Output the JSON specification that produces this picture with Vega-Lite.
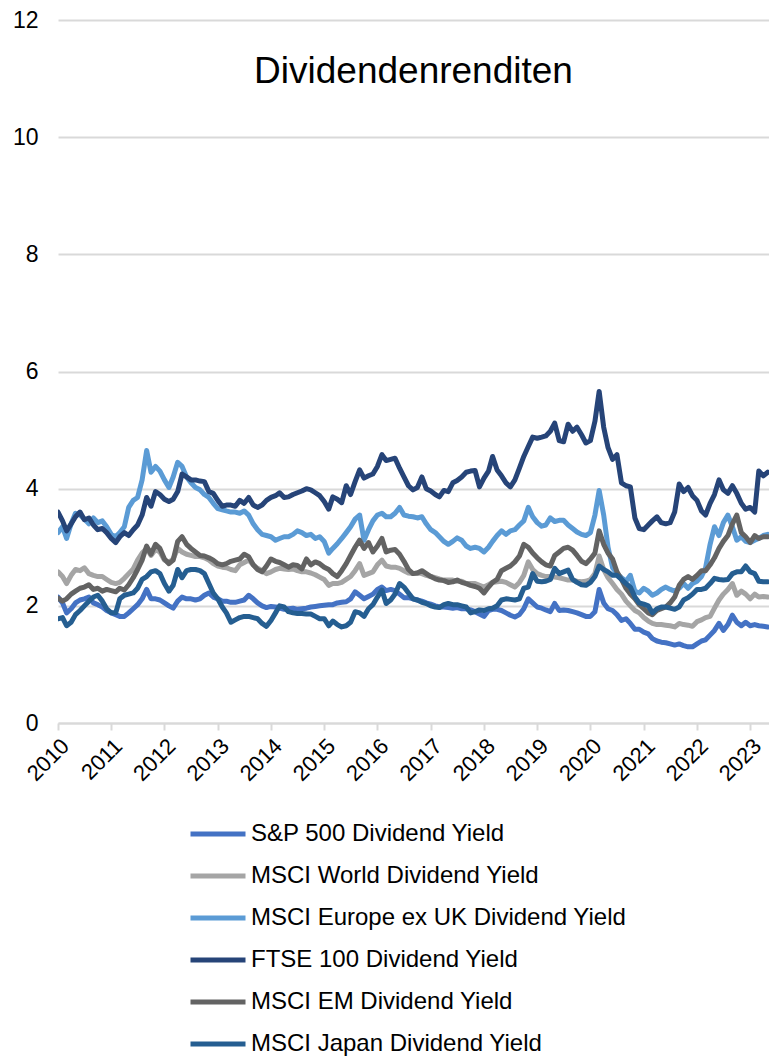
{
  "$schema": "https://vega.github.io/schema/vega-lite/v6.json",
  "width": 711,
  "height": 703,
  "autosize": {"type": "none"},
  "padding": {"left": 58, "top": 20, "right": 0, "bottom": 334},
  "background": "white",
  "config": {
    "view": {"stroke": null},
    "font": "Liberation Sans"
  },
  "title": {
    "text": "Dividendenrenditen",
    "font": "Liberation Sans",
    "fontSize": 37,
    "fontWeight": "normal",
    "color": "#000000",
    "anchor": "middle",
    "baseline": "alphabetic",
    "offset": 0,
    "dy": 111
  },
  "data": {
    "values": [
      {"d":"2010-01-01","sp":2.15,"world":2.58,"eu":3.25,"ftse":3.60,"em":2.13,"jp":1.78},
      {"d":"2010-02-01","sp":2.05,"world":2.50,"eu":3.35,"ftse":3.45,"em":2.08,"jp":1.80},
      {"d":"2010-03-01","sp":1.88,"world":2.38,"eu":3.15,"ftse":3.28,"em":2.12,"jp":1.66},
      {"d":"2010-04-01","sp":1.95,"world":2.52,"eu":3.40,"ftse":3.40,"em":2.20,"jp":1.72},
      {"d":"2010-05-01","sp":2.05,"world":2.62,"eu":3.58,"ftse":3.52,"em":2.25,"jp":1.85},
      {"d":"2010-06-01","sp":2.10,"world":2.60,"eu":3.55,"ftse":3.60,"em":2.30,"jp":1.92},
      {"d":"2010-07-01","sp":2.12,"world":2.65,"eu":3.48,"ftse":3.47,"em":2.32,"jp":2.00},
      {"d":"2010-08-01","sp":2.15,"world":2.55,"eu":3.40,"ftse":3.50,"em":2.36,"jp":2.08},
      {"d":"2010-09-01","sp":2.05,"world":2.52,"eu":3.50,"ftse":3.38,"em":2.28,"jp":2.15},
      {"d":"2010-10-01","sp":2.02,"world":2.50,"eu":3.42,"ftse":3.30,"em":2.30,"jp":2.18},
      {"d":"2010-11-01","sp":1.98,"world":2.50,"eu":3.45,"ftse":3.32,"em":2.25,"jp":2.08},
      {"d":"2010-12-01","sp":1.92,"world":2.45,"eu":3.35,"ftse":3.25,"em":2.28,"jp":1.95},
      {"d":"2011-01-01","sp":1.88,"world":2.40,"eu":3.22,"ftse":3.15,"em":2.26,"jp":1.88},
      {"d":"2011-02-01","sp":1.85,"world":2.38,"eu":3.18,"ftse":3.08,"em":2.24,"jp":1.88},
      {"d":"2011-03-01","sp":1.82,"world":2.40,"eu":3.25,"ftse":3.18,"em":2.30,"jp":2.12},
      {"d":"2011-04-01","sp":1.82,"world":2.47,"eu":3.35,"ftse":3.25,"em":2.27,"jp":2.18},
      {"d":"2011-05-01","sp":1.88,"world":2.55,"eu":3.68,"ftse":3.20,"em":2.36,"jp":2.20},
      {"d":"2011-06-01","sp":1.95,"world":2.63,"eu":3.80,"ftse":3.30,"em":2.48,"jp":2.22},
      {"d":"2011-07-01","sp":2.02,"world":2.78,"eu":3.85,"ftse":3.38,"em":2.62,"jp":2.30},
      {"d":"2011-08-01","sp":2.12,"world":2.90,"eu":4.15,"ftse":3.55,"em":2.78,"jp":2.45},
      {"d":"2011-09-01","sp":2.28,"world":2.98,"eu":4.65,"ftse":3.85,"em":3.02,"jp":2.50},
      {"d":"2011-10-01","sp":2.12,"world":2.86,"eu":4.28,"ftse":3.70,"em":2.88,"jp":2.58},
      {"d":"2011-11-01","sp":2.12,"world":2.96,"eu":4.38,"ftse":3.95,"em":3.05,"jp":2.60},
      {"d":"2011-12-01","sp":2.10,"world":2.92,"eu":4.30,"ftse":3.90,"em":2.98,"jp":2.55},
      {"d":"2012-01-01","sp":2.05,"world":2.78,"eu":4.15,"ftse":3.82,"em":2.80,"jp":2.38},
      {"d":"2012-02-01","sp":2.00,"world":2.74,"eu":4.02,"ftse":3.78,"em":2.72,"jp":2.25},
      {"d":"2012-03-01","sp":1.96,"world":2.80,"eu":4.20,"ftse":3.82,"em":2.78,"jp":2.35},
      {"d":"2012-04-01","sp":2.08,"world":2.98,"eu":4.45,"ftse":3.95,"em":3.10,"jp":2.62},
      {"d":"2012-05-01","sp":2.15,"world":2.92,"eu":4.38,"ftse":4.25,"em":3.18,"jp":2.48},
      {"d":"2012-06-01","sp":2.12,"world":2.88,"eu":4.20,"ftse":4.20,"em":3.05,"jp":2.60},
      {"d":"2012-07-01","sp":2.12,"world":2.86,"eu":4.10,"ftse":4.15,"em":2.98,"jp":2.62},
      {"d":"2012-08-01","sp":2.10,"world":2.84,"eu":4.02,"ftse":4.15,"em":2.92,"jp":2.62},
      {"d":"2012-09-01","sp":2.12,"world":2.84,"eu":3.98,"ftse":4.13,"em":2.86,"jp":2.60},
      {"d":"2012-10-01","sp":2.18,"world":2.82,"eu":3.90,"ftse":4.12,"em":2.85,"jp":2.55},
      {"d":"2012-11-01","sp":2.22,"world":2.78,"eu":3.85,"ftse":3.95,"em":2.82,"jp":2.38},
      {"d":"2012-12-01","sp":2.15,"world":2.72,"eu":3.75,"ftse":3.92,"em":2.78,"jp":2.22},
      {"d":"2013-01-01","sp":2.12,"world":2.68,"eu":3.66,"ftse":3.80,"em":2.72,"jp":2.12},
      {"d":"2013-02-01","sp":2.08,"world":2.66,"eu":3.64,"ftse":3.70,"em":2.70,"jp":1.98},
      {"d":"2013-03-01","sp":2.08,"world":2.65,"eu":3.62,"ftse":3.72,"em":2.72,"jp":1.88},
      {"d":"2013-04-01","sp":2.06,"world":2.62,"eu":3.60,"ftse":3.72,"em":2.76,"jp":1.72},
      {"d":"2013-05-01","sp":2.06,"world":2.60,"eu":3.60,"ftse":3.70,"em":2.78,"jp":1.76},
      {"d":"2013-06-01","sp":2.08,"world":2.70,"eu":3.58,"ftse":3.80,"em":2.80,"jp":1.80},
      {"d":"2013-07-01","sp":2.10,"world":2.74,"eu":3.62,"ftse":3.75,"em":2.88,"jp":1.82},
      {"d":"2013-08-01","sp":2.18,"world":2.78,"eu":3.55,"ftse":3.85,"em":2.84,"jp":1.82},
      {"d":"2013-09-01","sp":2.12,"world":2.70,"eu":3.40,"ftse":3.72,"em":2.70,"jp":1.80},
      {"d":"2013-10-01","sp":2.05,"world":2.64,"eu":3.30,"ftse":3.68,"em":2.62,"jp":1.78},
      {"d":"2013-11-01","sp":2.00,"world":2.60,"eu":3.22,"ftse":3.72,"em":2.58,"jp":1.70},
      {"d":"2013-12-01","sp":1.97,"world":2.55,"eu":3.20,"ftse":3.80,"em":2.68,"jp":1.65},
      {"d":"2014-01-01","sp":1.99,"world":2.58,"eu":3.18,"ftse":3.85,"em":2.80,"jp":1.75},
      {"d":"2014-02-01","sp":1.98,"world":2.62,"eu":3.12,"ftse":3.88,"em":2.76,"jp":1.88},
      {"d":"2014-03-01","sp":1.96,"world":2.64,"eu":3.15,"ftse":3.93,"em":2.74,"jp":2.00},
      {"d":"2014-04-01","sp":1.94,"world":2.63,"eu":3.18,"ftse":3.85,"em":2.70,"jp":1.98},
      {"d":"2014-05-01","sp":1.95,"world":2.62,"eu":3.18,"ftse":3.86,"em":2.66,"jp":1.90},
      {"d":"2014-06-01","sp":1.96,"world":2.63,"eu":3.22,"ftse":3.90,"em":2.70,"jp":1.88},
      {"d":"2014-07-01","sp":1.94,"world":2.60,"eu":3.28,"ftse":3.93,"em":2.69,"jp":1.87},
      {"d":"2014-08-01","sp":1.95,"world":2.58,"eu":3.25,"ftse":3.96,"em":2.63,"jp":1.87},
      {"d":"2014-09-01","sp":1.96,"world":2.58,"eu":3.20,"ftse":4.00,"em":2.80,"jp":1.86},
      {"d":"2014-10-01","sp":1.98,"world":2.56,"eu":3.22,"ftse":3.98,"em":2.70,"jp":1.86},
      {"d":"2014-11-01","sp":1.99,"world":2.53,"eu":3.15,"ftse":3.93,"em":2.75,"jp":1.82},
      {"d":"2014-12-01","sp":2.00,"world":2.49,"eu":3.18,"ftse":3.88,"em":2.72,"jp":1.78},
      {"d":"2015-01-01","sp":2.01,"world":2.45,"eu":3.10,"ftse":3.78,"em":2.66,"jp":1.78},
      {"d":"2015-02-01","sp":2.02,"world":2.35,"eu":2.90,"ftse":3.65,"em":2.62,"jp":1.66},
      {"d":"2015-03-01","sp":2.02,"world":2.38,"eu":2.98,"ftse":3.86,"em":2.55,"jp":1.74},
      {"d":"2015-04-01","sp":2.05,"world":2.38,"eu":3.06,"ftse":3.82,"em":2.50,"jp":1.68},
      {"d":"2015-05-01","sp":2.06,"world":2.40,"eu":3.15,"ftse":3.76,"em":2.60,"jp":1.64},
      {"d":"2015-06-01","sp":2.07,"world":2.45,"eu":3.25,"ftse":4.05,"em":2.72,"jp":1.66},
      {"d":"2015-07-01","sp":2.12,"world":2.50,"eu":3.35,"ftse":3.90,"em":2.86,"jp":1.72},
      {"d":"2015-08-01","sp":2.24,"world":2.60,"eu":3.48,"ftse":4.12,"em":3.00,"jp":1.90},
      {"d":"2015-09-01","sp":2.18,"world":2.72,"eu":3.55,"ftse":4.32,"em":3.12,"jp":1.88},
      {"d":"2015-10-01","sp":2.12,"world":2.52,"eu":3.12,"ftse":4.18,"em":2.98,"jp":1.82},
      {"d":"2015-11-01","sp":2.16,"world":2.55,"eu":3.30,"ftse":4.22,"em":3.08,"jp":1.95},
      {"d":"2015-12-01","sp":2.20,"world":2.58,"eu":3.45,"ftse":4.25,"em":2.92,"jp":2.02},
      {"d":"2016-01-01","sp":2.28,"world":2.70,"eu":3.55,"ftse":4.38,"em":3.02,"jp":2.15},
      {"d":"2016-02-01","sp":2.32,"world":2.78,"eu":3.58,"ftse":4.58,"em":3.15,"jp":2.27},
      {"d":"2016-03-01","sp":2.26,"world":2.68,"eu":3.52,"ftse":4.48,"em":2.92,"jp":2.04},
      {"d":"2016-04-01","sp":2.28,"world":2.66,"eu":3.52,"ftse":4.50,"em":2.95,"jp":2.10},
      {"d":"2016-05-01","sp":2.26,"world":2.66,"eu":3.58,"ftse":4.52,"em":2.96,"jp":2.20},
      {"d":"2016-06-01","sp":2.20,"world":2.64,"eu":3.68,"ftse":4.35,"em":2.88,"jp":2.38},
      {"d":"2016-07-01","sp":2.14,"world":2.60,"eu":3.55,"ftse":4.20,"em":2.76,"jp":2.32},
      {"d":"2016-08-01","sp":2.14,"world":2.56,"eu":3.53,"ftse":4.05,"em":2.62,"jp":2.22},
      {"d":"2016-09-01","sp":2.12,"world":2.55,"eu":3.52,"ftse":3.98,"em":2.55,"jp":2.12},
      {"d":"2016-10-01","sp":2.10,"world":2.56,"eu":3.50,"ftse":4.02,"em":2.56,"jp":2.10},
      {"d":"2016-11-01","sp":2.08,"world":2.55,"eu":3.52,"ftse":4.20,"em":2.60,"jp":2.06},
      {"d":"2016-12-01","sp":2.05,"world":2.52,"eu":3.40,"ftse":4.00,"em":2.55,"jp":2.04},
      {"d":"2017-01-01","sp":2.03,"world":2.50,"eu":3.30,"ftse":3.96,"em":2.50,"jp":2.00},
      {"d":"2017-02-01","sp":2.00,"world":2.48,"eu":3.25,"ftse":3.90,"em":2.46,"jp":1.98},
      {"d":"2017-03-01","sp":1.98,"world":2.46,"eu":3.18,"ftse":3.86,"em":2.44,"jp":1.97},
      {"d":"2017-04-01","sp":1.98,"world":2.44,"eu":3.10,"ftse":3.97,"em":2.43,"jp":2.02},
      {"d":"2017-05-01","sp":1.97,"world":2.44,"eu":3.05,"ftse":3.95,"em":2.40,"jp":2.04},
      {"d":"2017-06-01","sp":1.96,"world":2.44,"eu":3.10,"ftse":4.10,"em":2.41,"jp":2.02},
      {"d":"2017-07-01","sp":1.97,"world":2.42,"eu":3.16,"ftse":4.14,"em":2.44,"jp":2.02},
      {"d":"2017-08-01","sp":1.95,"world":2.42,"eu":3.12,"ftse":4.20,"em":2.40,"jp":2.00},
      {"d":"2017-09-01","sp":1.95,"world":2.38,"eu":3.02,"ftse":4.28,"em":2.38,"jp":1.98},
      {"d":"2017-10-01","sp":1.93,"world":2.38,"eu":2.98,"ftse":4.30,"em":2.35,"jp":1.88},
      {"d":"2017-11-01","sp":1.90,"world":2.38,"eu":3.00,"ftse":4.31,"em":2.33,"jp":1.90},
      {"d":"2017-12-01","sp":1.86,"world":2.35,"eu":2.98,"ftse":4.03,"em":2.30,"jp":1.93},
      {"d":"2018-01-01","sp":1.82,"world":2.32,"eu":2.92,"ftse":4.18,"em":2.22,"jp":1.92},
      {"d":"2018-02-01","sp":1.92,"world":2.36,"eu":3.00,"ftse":4.30,"em":2.32,"jp":1.95},
      {"d":"2018-03-01","sp":1.94,"world":2.40,"eu":3.10,"ftse":4.55,"em":2.40,"jp":1.96},
      {"d":"2018-04-01","sp":1.94,"world":2.41,"eu":3.20,"ftse":4.32,"em":2.45,"jp":2.00},
      {"d":"2018-05-01","sp":1.92,"world":2.42,"eu":3.28,"ftse":4.22,"em":2.60,"jp":2.10},
      {"d":"2018-06-01","sp":1.88,"world":2.40,"eu":3.22,"ftse":4.10,"em":2.64,"jp":2.12},
      {"d":"2018-07-01","sp":1.84,"world":2.36,"eu":3.28,"ftse":4.03,"em":2.68,"jp":2.11},
      {"d":"2018-08-01","sp":1.81,"world":2.32,"eu":3.30,"ftse":4.15,"em":2.75,"jp":2.10},
      {"d":"2018-09-01","sp":1.85,"world":2.40,"eu":3.38,"ftse":4.35,"em":2.85,"jp":2.12},
      {"d":"2018-10-01","sp":1.95,"world":2.52,"eu":3.45,"ftse":4.55,"em":3.05,"jp":2.30},
      {"d":"2018-11-01","sp":2.12,"world":2.75,"eu":3.68,"ftse":4.72,"em":3.00,"jp":2.32},
      {"d":"2018-12-01","sp":2.05,"world":2.62,"eu":3.52,"ftse":4.88,"em":2.90,"jp":2.55},
      {"d":"2019-01-01","sp":1.98,"world":2.55,"eu":3.42,"ftse":4.86,"em":2.82,"jp":2.42},
      {"d":"2019-02-01","sp":1.96,"world":2.52,"eu":3.36,"ftse":4.88,"em":2.75,"jp":2.41},
      {"d":"2019-03-01","sp":1.93,"world":2.50,"eu":3.38,"ftse":4.90,"em":2.70,"jp":2.42},
      {"d":"2019-04-01","sp":1.90,"world":2.50,"eu":3.50,"ftse":4.98,"em":2.68,"jp":2.45},
      {"d":"2019-05-01","sp":2.04,"world":2.49,"eu":3.44,"ftse":5.12,"em":2.86,"jp":2.64},
      {"d":"2019-06-01","sp":1.92,"world":2.48,"eu":3.46,"ftse":4.82,"em":2.92,"jp":2.55},
      {"d":"2019-07-01","sp":1.93,"world":2.46,"eu":3.46,"ftse":4.80,"em":2.98,"jp":2.58},
      {"d":"2019-08-01","sp":1.92,"world":2.44,"eu":3.38,"ftse":5.10,"em":3.00,"jp":2.61},
      {"d":"2019-09-01","sp":1.90,"world":2.44,"eu":3.32,"ftse":4.98,"em":2.95,"jp":2.45},
      {"d":"2019-10-01","sp":1.88,"world":2.42,"eu":3.26,"ftse":5.05,"em":2.86,"jp":2.40},
      {"d":"2019-11-01","sp":1.85,"world":2.41,"eu":3.22,"ftse":4.92,"em":2.76,"jp":2.36},
      {"d":"2019-12-01","sp":1.82,"world":2.42,"eu":3.20,"ftse":4.78,"em":2.72,"jp":2.35},
      {"d":"2020-01-01","sp":1.82,"world":2.45,"eu":3.25,"ftse":4.82,"em":2.80,"jp":2.40},
      {"d":"2020-02-01","sp":1.90,"world":2.55,"eu":3.55,"ftse":5.15,"em":2.90,"jp":2.50},
      {"d":"2020-03-01","sp":2.28,"world":2.85,"eu":3.97,"ftse":5.66,"em":3.28,"jp":2.68},
      {"d":"2020-04-01","sp":2.05,"world":2.62,"eu":3.55,"ftse":5.05,"em":3.05,"jp":2.62},
      {"d":"2020-05-01","sp":1.95,"world":2.48,"eu":3.00,"ftse":4.70,"em":2.90,"jp":2.58},
      {"d":"2020-06-01","sp":1.92,"world":2.38,"eu":2.65,"ftse":4.50,"em":2.80,"jp":2.52},
      {"d":"2020-07-01","sp":1.85,"world":2.28,"eu":2.55,"ftse":4.58,"em":2.58,"jp":2.52},
      {"d":"2020-08-01","sp":1.75,"world":2.20,"eu":2.48,"ftse":4.10,"em":2.45,"jp":2.45},
      {"d":"2020-09-01","sp":1.78,"world":2.08,"eu":2.42,"ftse":4.05,"em":2.30,"jp":2.38},
      {"d":"2020-10-01","sp":1.70,"world":2.00,"eu":2.52,"ftse":4.03,"em":2.20,"jp":2.32},
      {"d":"2020-11-01","sp":1.60,"world":1.92,"eu":2.25,"ftse":3.50,"em":2.12,"jp":2.15},
      {"d":"2020-12-01","sp":1.60,"world":1.88,"eu":2.22,"ftse":3.32,"em":2.02,"jp":2.05},
      {"d":"2021-01-01","sp":1.55,"world":1.80,"eu":2.30,"ftse":3.30,"em":1.95,"jp":2.03},
      {"d":"2021-02-01","sp":1.52,"world":1.74,"eu":2.25,"ftse":3.38,"em":1.88,"jp":2.00},
      {"d":"2021-03-01","sp":1.44,"world":1.70,"eu":2.18,"ftse":3.45,"em":1.85,"jp":1.88},
      {"d":"2021-04-01","sp":1.40,"world":1.68,"eu":2.22,"ftse":3.52,"em":1.92,"jp":1.95},
      {"d":"2021-05-01","sp":1.38,"world":1.68,"eu":2.28,"ftse":3.42,"em":1.95,"jp":1.98},
      {"d":"2021-06-01","sp":1.37,"world":1.67,"eu":2.32,"ftse":3.40,"em":1.98,"jp":1.98},
      {"d":"2021-07-01","sp":1.35,"world":1.66,"eu":2.28,"ftse":3.42,"em":2.05,"jp":1.96},
      {"d":"2021-08-01","sp":1.33,"world":1.64,"eu":2.25,"ftse":3.60,"em":2.15,"jp":1.94},
      {"d":"2021-09-01","sp":1.35,"world":1.70,"eu":2.30,"ftse":4.08,"em":2.35,"jp":1.98},
      {"d":"2021-10-01","sp":1.32,"world":1.68,"eu":2.38,"ftse":3.95,"em":2.45,"jp":2.10},
      {"d":"2021-11-01","sp":1.30,"world":1.67,"eu":2.30,"ftse":4.02,"em":2.50,"jp":2.14},
      {"d":"2021-12-01","sp":1.30,"world":1.65,"eu":2.38,"ftse":3.88,"em":2.45,"jp":2.20},
      {"d":"2022-01-01","sp":1.35,"world":1.73,"eu":2.42,"ftse":3.80,"em":2.52,"jp":2.28},
      {"d":"2022-02-01","sp":1.40,"world":1.76,"eu":2.50,"ftse":3.62,"em":2.60,"jp":2.28},
      {"d":"2022-03-01","sp":1.42,"world":1.80,"eu":2.65,"ftse":3.55,"em":2.60,"jp":2.30},
      {"d":"2022-04-01","sp":1.50,"world":1.82,"eu":3.05,"ftse":3.75,"em":2.70,"jp":2.38},
      {"d":"2022-05-01","sp":1.58,"world":1.96,"eu":3.35,"ftse":3.90,"em":2.82,"jp":2.47},
      {"d":"2022-06-01","sp":1.70,"world":2.10,"eu":3.20,"ftse":4.15,"em":2.98,"jp":2.45},
      {"d":"2022-07-01","sp":1.58,"world":2.20,"eu":3.42,"ftse":3.98,"em":3.10,"jp":2.44},
      {"d":"2022-08-01","sp":1.68,"world":2.28,"eu":3.55,"ftse":3.92,"em":3.20,"jp":2.45},
      {"d":"2022-09-01","sp":1.84,"world":2.38,"eu":3.35,"ftse":4.05,"em":3.40,"jp":2.55},
      {"d":"2022-10-01","sp":1.72,"world":2.18,"eu":3.12,"ftse":3.92,"em":3.55,"jp":2.58},
      {"d":"2022-11-01","sp":1.66,"world":2.25,"eu":3.18,"ftse":3.75,"em":3.25,"jp":2.58},
      {"d":"2022-12-01","sp":1.72,"world":2.20,"eu":3.10,"ftse":3.65,"em":3.18,"jp":2.68},
      {"d":"2023-01-01","sp":1.66,"world":2.12,"eu":3.08,"ftse":3.68,"em":3.08,"jp":2.58},
      {"d":"2023-02-01","sp":1.68,"world":2.20,"eu":3.12,"ftse":3.60,"em":3.20,"jp":2.55},
      {"d":"2023-03-01","sp":1.66,"world":2.15,"eu":3.15,"ftse":4.30,"em":3.15,"jp":2.42},
      {"d":"2023-04-01","sp":1.65,"world":2.16,"eu":3.20,"ftse":4.22,"em":3.18,"jp":2.41},
      {"d":"2023-05-01","sp":1.64,"world":2.15,"eu":3.22,"ftse":4.28,"em":3.18,"jp":2.41}
    ]
  },
  "transform": [
    {"fold": ["sp", "world", "eu", "ftse", "em", "jp"], "as": ["series", "value"]}
  ],
  "mark": {"type": "line", "strokeWidth": 5, "strokeJoin": "round", "strokeCap": "round", "clip": true},
  "encoding": {
    "x": {
      "field": "d",
      "type": "temporal",
      "scale": {"type": "utc", "domain": ["2010-01-01", "2023-05-10"]},
      "axis": {
        "title": null,
        "format": "%Y",
        "tickCount": {"interval": "year", "step": 1},
        "labelAngle": -45,
        "labelFont": "Liberation Sans",
        "labelFontSize": 22,
        "labelColor": "#000000",
        "labelPadding": 5,
        "labelDx": 3,
        "labelOverlap": false,
        "labelFlush": false,
        "grid": false,
        "domainColor": "#D9D9D9",
        "domainWidth": 2,
        "tickColor": "#D9D9D9",
        "tickWidth": 2,
        "tickSize": 7
      }
    },
    "y": {
      "field": "value",
      "type": "quantitative",
      "scale": {"domain": [0, 12], "nice": false},
      "axis": {
        "title": null,
        "values": [0, 2, 4, 6, 8, 10, 12],
        "labelFont": "Liberation Sans",
        "labelFontSize": 23,
        "labelColor": "#000000",
        "labelPadding": 20,
        "domain": false,
        "ticks": false,
        "grid": true,
        "gridColor": "#D9D9D9",
        "gridWidth": 2
      }
    },
    "color": {
      "field": "series",
      "type": "nominal",
      "sort": ["sp", "world", "eu", "ftse", "em", "jp"],
      "scale": {
        "domain": ["sp", "world", "eu", "ftse", "em", "jp"],
        "range": ["#4472C4", "#A5A5A5", "#5B9BD5", "#264478", "#636363", "#255E91"]
      },
      "legend": {
        "title": null,
        "orient": "none",
        "legendX": 130,
        "legendY": 784,
        "direction": "vertical",
        "padding": 0,
        "symbolType": "stroke",
        "symbolSize": 3025,
        "symbolStrokeWidth": 5,
        "labelFont": "Liberation Sans",
        "labelFontSize": 24,
        "labelColor": "#000000",
        "labelOffset": 3,
        "rowPadding": -16.4,
        "labelLimit": 600,
        "labelExpr": "datum.label == 'sp' ? 'S&P 500 Dividend Yield' : datum.label == 'world' ? 'MSCI World Dividend Yield' : datum.label == 'eu' ? 'MSCI Europe ex UK Dividend Yield' : datum.label == 'ftse' ? 'FTSE 100 Dividend Yield' : datum.label == 'em' ? 'MSCI EM Dividend Yield' : 'MSCI Japan Dividend Yield'"
      }
    }
  }
}
